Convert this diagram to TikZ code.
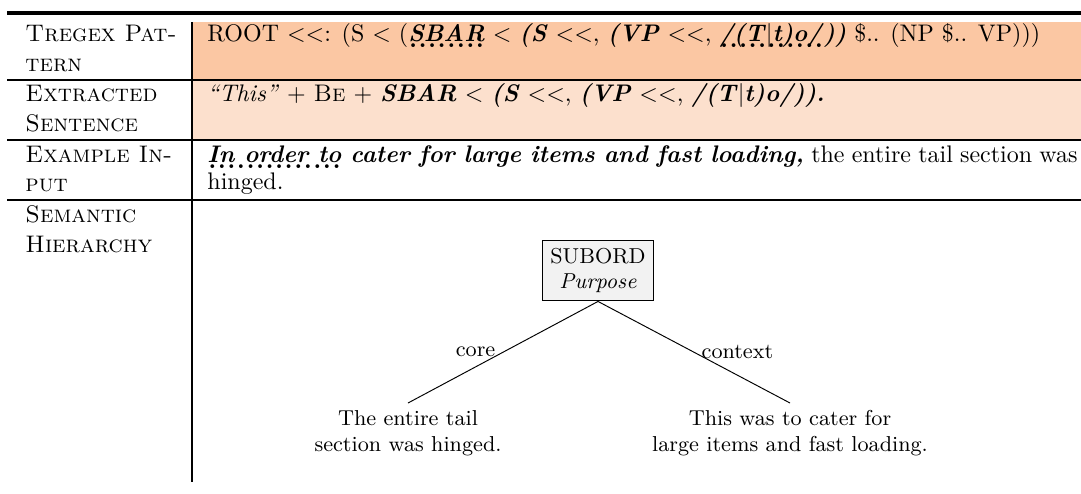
\documentclass[tikz,border=0pt]{standalone}
\definecolor{rowA}{RGB}{251,199,163}
\definecolor{rowB}{RGB}{252,224,205}
\definecolor{boxfill}{RGB}{242,242,242}
\newcommand\bi[1]{\textbf{\textit{#1}}}
\newcommand\dotul[1]{\setbox0=\hbox{#1}\rlap{\raisebox{-2.6pt}{\hbox to \wd0{\xleaders\hbox to 3.9pt{\hss\normalfont\bfseries.\hss}\hfill}}}\box0\relax}
\tikzset{
  lbl/.style={anchor=base west, inner sep=0pt},
  txt/.style={anchor=base west, inner sep=0pt},
  thinrule/.style={line width=0.45pt},
  midrule/.style={line width=0.8pt},
  thickrule/.style={line width=1.2pt},
  toprulestyle/.style={line width=1.65pt},
  treebox/.style={draw, fill=boxfill, align=center, font=\fontsize{9}{10.6}\selectfont, minimum width=45.9pt, minimum height=25.4pt, inner sep=3pt, line width=0.4pt},
  leaf/.style={anchor=north, align=center, font=\fontsize{9}{10.6}\selectfont, inner sep=3pt},
  edgelbl/.style={font=\fontsize{9}{10.6}\selectfont, inner sep=3pt},
  treeedge/.style={line width=0.4pt}
}
\begin{document}
\begin{tikzpicture}[x=0.417pt,y=-0.417pt]
\useasboundingbox (0,0) rectangle (1081,493);
% fills
\fill[rowA] (192,22) rectangle (1081,80);
\fill[rowB] (192,80) rectangle (1081,139);
% rules
\draw[toprulestyle] (7,13) -- (1081,13);
\draw[midrule] (7,80) -- (192,80);
\draw[thinrule] (192,80) -- (1081,80);
\draw[thickrule] (7,140) -- (1081,140);
\draw[thickrule] (7,200) -- (1081,200);
\draw[thinrule] (192,22) -- (192,140);
\draw[midrule] (192,140) -- (192,482);
% left column
\node[lbl] (l1a) at (25,41.7) {\textsc{Tregex Pat-}};
\node[lbl] (l1b) at (25,71.7) {\textsc{tern}};
\node[lbl] (l2a) at (25,101.7) {\textsc{Extracted}};
\node[lbl] (l2b) at (25,131.7) {\textsc{Sentence}};
\node[lbl] (l3a) at (25,162) {\textsc{Example In-}};
\node[lbl] (l3b) at (25,191) {\textsc{put}};
\node[lbl] (l4a) at (25,222) {\textsc{Semantic}};
\node[lbl] (l4b) at (25,252) {\textsc{Hierarchy}};
% right column
\node[txt] (r1) at (207,41.7) {ROOT <{}<: (S < (\dotul{\bi{SBAR}} < \bi{(S} <{}<, \bi{(VP} <{}<, \dotul{\bi{/(T}$|$\bi{t)o/}}\bi{))} \$.. (NP \$.. VP)))};
\node[txt] (r2) at (207,101.7) {\textit{“This”} + \textsc{Be} + \bi{SBAR} < \bi{(S} <{}<, \bi{(VP} <{}<, \bi{/(T}$|$\bi{t)o/)).}};
\node[txt] (r3a) at (207,162) {\makebox[362.8pt][s]{\dotul{\bi{In order to}}\bi{ cater for large items and fast loading,} the entire tail section was}};
\node[txt] (r3b) at (207,189) {hinged.};
% tree
\node[treebox] (root) at (598,270.5) {SUBORD\\\textit{Purpose}};
\node[leaf] (coreleaf) at (408,403) {The entire tail\\section was hinged.};
\node[leaf] (ctxleaf) at (790,403) {This was to cater for\\large items and fast loading.};
\draw[treeedge] (root.south) -- (coreleaf.north) node[midway, left, edgelbl] {core};
\draw[treeedge] (root.south) -- (ctxleaf.north) node[midway, right, edgelbl] {context};
\end{tikzpicture}
\end{document}
